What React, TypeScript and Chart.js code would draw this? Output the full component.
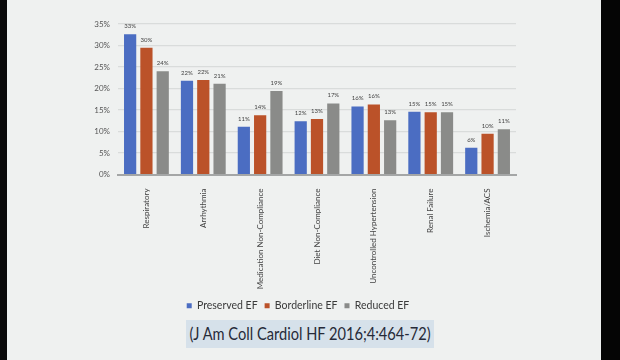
import React, { useEffect, useRef } from "react";
import { Chart, registerables } from "chart.js";

Chart.register(...registerables);

const categories = [
  "Respiratory",
  "Arrhythmia",
  "Medication Non-Compliance",
  "Diet Non-Compliance",
  "Uncontrolled Hypertension",
  "Renal Failure",
  "Ischemia/ACS",
];
const preservedEF = [32.6, 21.8, 11.1, 12.4, 15.8, 14.6, 6.2];
const borderlineEF = [29.5, 22.0, 13.8, 12.9, 16.3, 14.5, 9.5];
const reducedEF = [24.0, 21.1, 19.4, 16.5, 12.6, 14.5, 10.5];
const seriesNames = ["Preserved EF", "Borderline EF", "Reduced EF"];
const yTicks = [0, 5, 10, 15, 20, 25, 30, 35];
const citation = "(J Am Coll Cardiol HF 2016;4:464-72)";

const FONT = "Lato, 'Open Sans', sans-serif";

const valueLabels = {
  id: "valueLabels",
  afterDatasetsDraw(chart: any) {
    const ctx = chart.ctx;
    ctx.save();
    ctx.font = `6px ${FONT}`;
    ctx.fillStyle = "#444";
    ctx.textAlign = "center";
    ctx.textBaseline = "bottom";
    chart.data.datasets.forEach((ds: any, i: number) => {
      const meta = chart.getDatasetMeta(i);
      meta.data.forEach((bar: any, j: number) => {
        ctx.fillText(Math.round(ds.data[j]) + "%", bar.x, bar.y - 5);
      });
    });
    ctx.restore();
  },
};

export default function App() {
  const ref = useRef<HTMLCanvasElement>(null);
  useEffect(() => {
    if (!ref.current) return;
    const chart = new Chart(ref.current, {
      type: "bar",
      data: {
        labels: categories,
        datasets: [
          { label: seriesNames[0], data: preservedEF, backgroundColor: "#4b6dc2" },
          { label: seriesNames[1], data: borderlineEF, backgroundColor: "#bb5229" },
          { label: seriesNames[2], data: reducedEF, backgroundColor: "#8a8b89" },
        ],
      },
      options: {
        animation: false,
        responsive: false,
        maintainAspectRatio: false,
        datasets: {
          bar: { categoryPercentage: 0.86, barPercentage: 0.75 },
        },
        layout: { padding: { left: 80, right: 104, top: 24, bottom: 0 } },
        plugins: {
          tooltip: { enabled: false },
          legend: {
            position: "bottom",
            labels: {
              boxWidth: 5,
              boxHeight: 5,
              padding: 7,
              color: "#3a3a3a",
              font: { size: 10.5, family: FONT },
            },
          },
        },
        scales: {
          x: {
            grid: { display: false },
            border: { color: "#a4a6a6", width: 2 },
            ticks: {
              minRotation: 90,
              maxRotation: 90,
              color: "#444",
              font: { size: 8, family: FONT },
              padding: 6,
            },
            afterFit(scale: any) {
              scale.height = 119;
            },
          },
          y: {
            min: 0,
            max: 35,
            afterBuildTicks(scale: any) {
              scale.ticks = yTicks.map((v) => ({ value: v }));
            },
            grid: { color: "#d9dcdb", drawTicks: false, lineWidth: 1.2 },
            border: { display: false },
            ticks: {
              color: "#555",
              font: { size: 8, family: FONT },
              padding: 8,
              callback: (v: any) => v + "%",
            },
            afterFit(scale: any) {
              scale.width = 38;
            },
          },
        },
      },
      plugins: [valueLabels],
    });
    return () => chart.destroy();
  }, []);

  return (
    <div
      style={{
        position: "fixed",
        left: 0,
        top: 0,
        width: 620,
        height: 360,
        background: "#eff1f0",
        overflow: "hidden",
      }}
    >
      <div style={{ position: "absolute", left: 0, top: 0, width: 7, height: 360, background: "#0a0a0a" }} />
      <div style={{ position: "absolute", left: 601, top: 0, width: 19, height: 360, background: "#050505" }} />
      <canvas
        ref={ref}
        width={620}
        height={321}
        style={{ position: "absolute", left: 0, top: 0, width: 620, height: 321 }}
      />
      <div
        style={{
          position: "absolute",
          left: 186,
          top: 320,
          width: 248,
          height: 28,
          background: "#d6e1ea",
        }}
      />
      <div
        style={{
          position: "absolute",
          left: 310,
          top: 320,
          height: 28,
          color: "#262a38",
          fontFamily: FONT,
          fontSize: 17,
          lineHeight: "28px",
          whiteSpace: "nowrap",
          transform: "translateX(-50%) scaleX(0.86)",
        }}
      >
        {citation}
      </div>
    </div>
  );
}
